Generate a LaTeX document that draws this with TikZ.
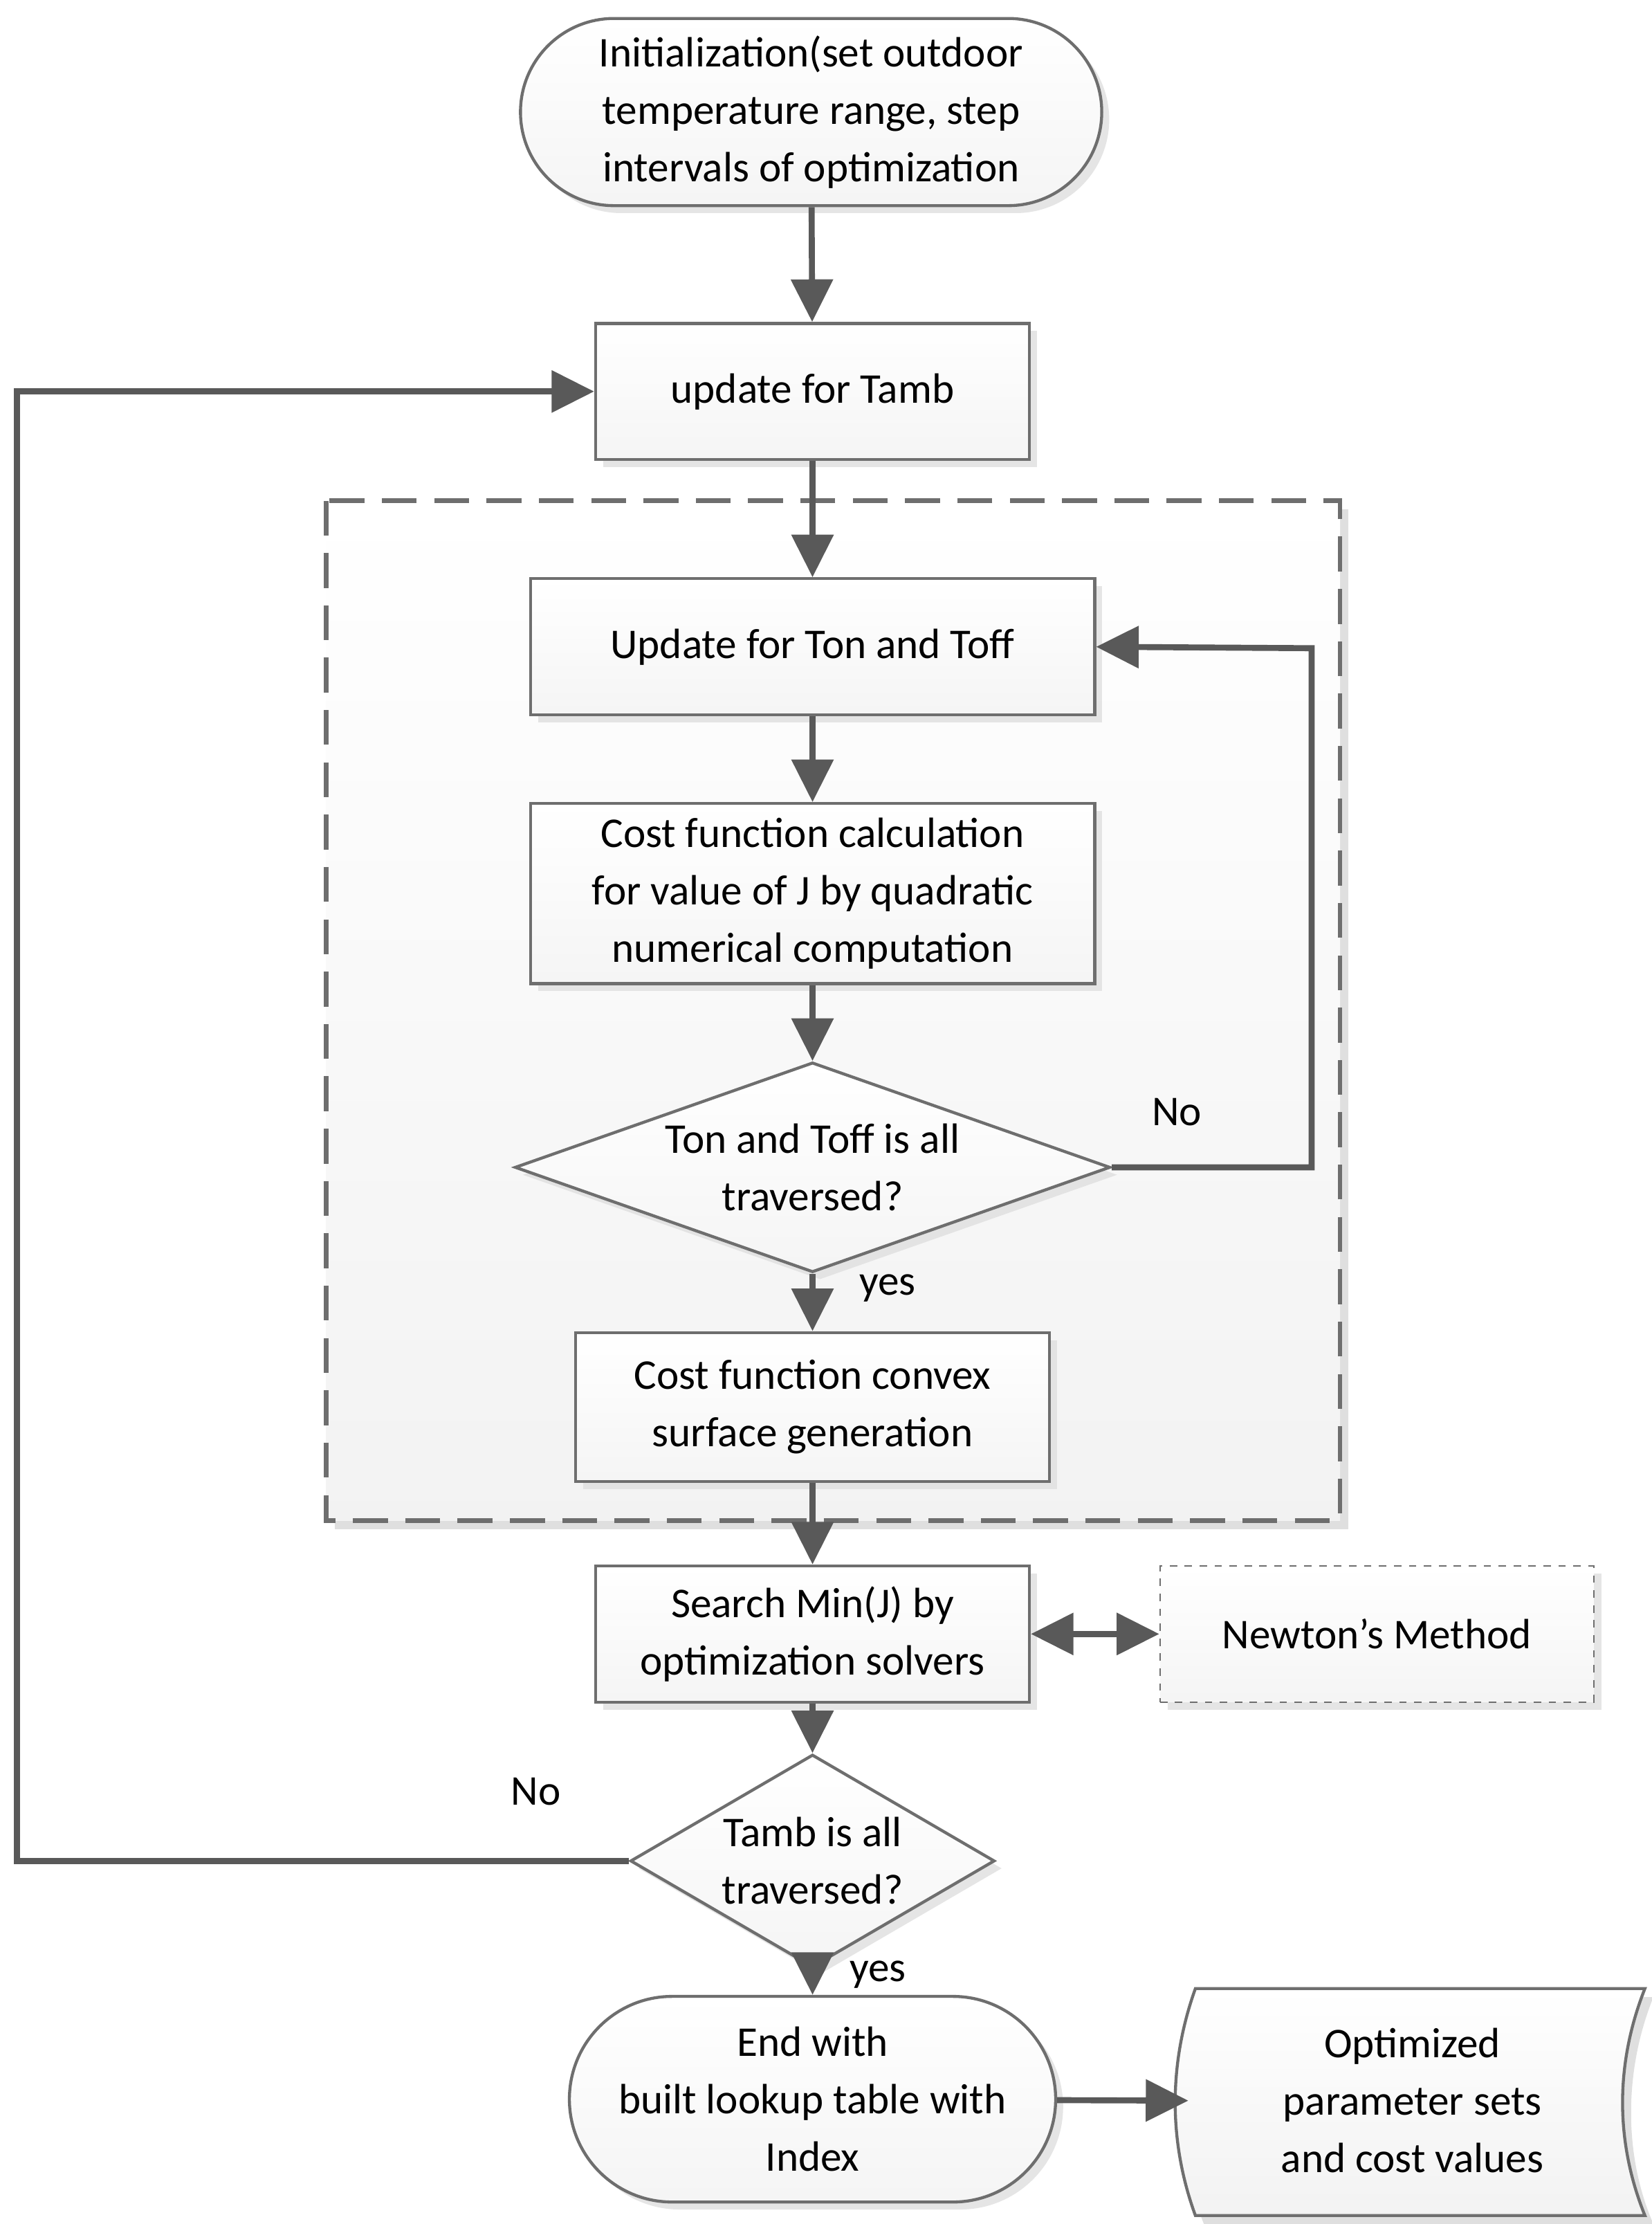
\documentclass[tikz,border=0pt]{standalone}
\usepackage{fontspec}
\setmainfont{Carlito}
\usetikzlibrary{arrows.meta,shapes.geometric,shadows}
\definecolor{ln}{HTML}{595959}
\definecolor{bx}{HTML}{6E6E6E}
\tikzset{
  base/.style={draw=bx,line width=1.2pt,top color=white,bottom color=gray!8,align=center,
    font=\fontsize{17}{23}\selectfont,inner sep=0pt,
    drop shadow={shadow xshift=3pt,shadow yshift=-3pt,fill=gray!25,opacity=0.8}},
  box/.style={base,rectangle},
  term/.style={base,rounded rectangle},
  dia/.style={base,diamond,aspect=2.8},
  arr/.style={draw=ln,line width=2.4pt,-{Triangle[length=0.6cm,width=0.58cm]}},
  lbl/.style={font=\fontsize{17}{23}\selectfont},
}
\usetikzlibrary{shapes.misc}
\begin{document}
\begin{tikzpicture}[x=0.02cm,y=-0.02cm]
\useasboundingbox (0,0) rectangle (1165,1568);
% dashed frame
\fill[gray!25] (236,359) rectangle (951,1078);
\shade[top color=white,bottom color=gray!10] (230,353) rectangle (945,1072);
\draw[bx,line width=1.8pt,dash pattern=on 14pt off 7pt] (230,353) rectangle (945,1072);
\node[term,minimum width=8.2cm,minimum height=2.64cm] (init) at (572,79) {Initialization(set outdoor\\temperature range, step\\intervals of optimization};
\node[box,minimum width=6.12cm,minimum height=1.92cm] (tamb) at (573,276) {update for Tamb};
\node[box,minimum width=7.96cm,minimum height=1.92cm] (ton) at (573,456) {Update for Ton and Toff};
\node[box,minimum width=7.96cm,minimum height=2.54cm] (cost) at (573,630) {Cost function calculation\\for value of J by quadratic\\numerical computation};
\node[dia,minimum width=8.4cm,minimum height=2.96cm] (d1) at (573,823) {};
\node[lbl,align=center] at (573,823) {Ton and Toff is all\\traversed?};
\node[box,minimum width=6.68cm,minimum height=2.1cm] (conv) at (573,992) {Cost function convex\\surface generation};
\node[box,minimum width=6.12cm,minimum height=1.92cm] (search) at (573,1152) {Search Min(J) by\\optimization solvers};
\node[box,dashed,line width=0.6pt,minimum width=6.12cm,minimum height=1.92cm,drop shadow={opacity=0}] (newton) at (971,1152) {Newton’s Method};
\node[dia,minimum width=5.14cm,minimum height=3.0cm] (d2) at (573,1312) {};
\node[lbl,align=center] at (573,1312) {Tamb is all\\traversed?};
\node[term,minimum width=6.86cm,minimum height=2.9cm] (end) at (573,1480) {End with\\built lookup table with\\Index};
% document shape
\coordinate (doc) at (838,1481);
\path[fill=gray!25] (849,1408) -- (1166,1408) .. controls (1145,1460) and (1145,1520) .. (1166,1568) -- (849,1568) .. controls (830,1520) and (830,1460) .. (849,1408) -- cycle;
\shade[top color=white,bottom color=gray!10,draw=bx,line width=1.2pt] (843,1402) -- (1160,1402) .. controls (1139,1455) and (1139,1510) .. (1160,1562) -- (843,1562) .. controls (824,1510) and (824,1455) .. (843,1402) -- cycle;
\node[lbl,align=center] (doctext) at (996,1481) {Optimized\\parameter sets\\and cost values};
% arrows
\draw[arr] (init) -- (tamb);
\draw[arr] (tamb) -- (ton);
\draw[arr] (ton) -- (cost);
\draw[arr] (cost) -- (d1);
\draw[arr] (d1) -- (conv);
\draw[arr] (d1.east) -- (925,823) -- (925,457) -- (ton.east);
\draw[arr] (conv) -- (search);
\draw[draw=ln,line width=2.4pt,{Triangle[length=0.6cm,width=0.58cm]}-{Triangle[length=0.6cm,width=0.58cm]}] (search) -- (newton);
\draw[arr] (search) -- (d2);
\draw[arr] (d2.west) -- (12,1312) -- (12,276) -- (tamb.west);
\draw[arr] (d2) -- (end);
\draw[arr] (end) -- (doc);
\node[lbl] at (830,784) {No};
\node[lbl] at (626,908) {yes};
\node[lbl] at (378,1263) {No};
\node[lbl] at (619,1392) {yes};
\end{tikzpicture}
\end{document}
